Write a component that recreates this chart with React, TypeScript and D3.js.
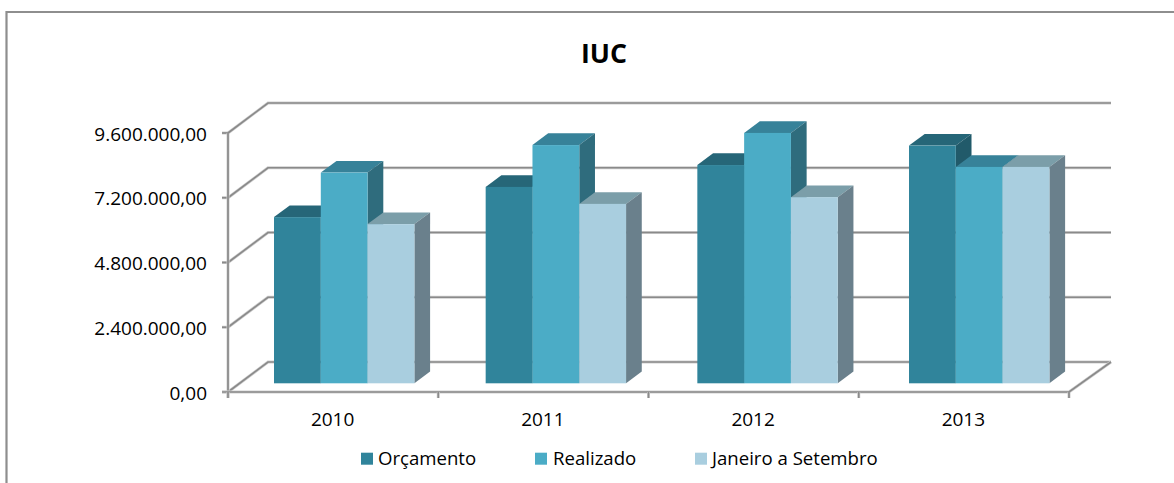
import React from "react";
import * as d3 from "d3";

const categories = ["2010", "2011", "2012", "2013"];
const seriesNames = ["Orçamento", "Realizado", "Janeiro a Setembro"];
const orcamento = [6160000, 7280000, 8090000, 8810000];
const realizado = [7810000, 8830000, 9280000, 8020000];
const janeiroSetembro = [5900000, 6650000, 6900000, 8020000];
const tickValues = [0, 2400000, 4800000, 7200000, 9600000];
const tickLabels = ["0,00", "2.400.000,00", "4.800.000,00", "7.200.000,00", "9.600.000,00"];

const W = 1174, H = 483;
const FONT = "'Open Sans', sans-serif";
const axisX0 = 228, axisX1 = 1069, axisY0 = 392, axisY1 = 133;
const wallDX = 40, wallDY = -30;
const barBaseY = 383.3;
const barDX = 15.7, barDY = -11.7;
const gridColor = "#8a8a8a";

const seriesStyle = [
  { values: orcamento, front: "#30849b", top: "#266678", side: "#215a6a" },
  { values: realizado, front: "#4bacc6", top: "#378299", side: "#2f6c7d" },
  { values: janeiroSetembro, front: "#a9cedf", top: "#7b9ea9", side: "#6a808c" },
];
const legendX = [361, 535, 695];
const legendTextX = [378, 553, 712];

function GridPath({ d }: { d: string }) {
  return (
    <g fill="none">
      <path d={d} stroke="#cfcfcf" strokeWidth={3} />
      <path d={d} stroke={gridColor} strokeWidth={1.7} />
    </g>
  );
}

export default function App() {
  const y = d3.scaleLinear().domain([0, 9600000]).range([axisY0, axisY1]);
  const xTicks = d3.scaleLinear().domain([0, 4]).range([axisX0, axisX1]);
  const group = d3.scaleBand<string>().domain(categories).range([274, 274 + 4 * 211.67]).padding(0);
  const barW = 46.8;
  const h = (v: number) => y(0) - y(v);

  return (
    <svg
      width={W}
      height={H}
      viewBox={`0 0 ${W} ${H}`}
      style={{ position: "absolute", left: 0, top: 0, display: "block", background: "#fff" }}
      fontFamily={FONT}
    >
      <path d={`M${W},12H6.5V${H}`} fill="none" stroke="#8e8e8e" strokeWidth={2.2} />
      <text x={604} y={63} textAnchor="middle" fontSize={27} fontWeight={700} fill="#000" textLength={46} lengthAdjust="spacingAndGlyphs">IUC</text>

      {tickValues.map((t) => {
        const yy = y(t);
        return (
          <g key={t}>
            <GridPath d={`M${axisX0},${yy}L${axisX0 + wallDX},${yy + wallDY}H${axisX1 + wallDX + 2}`} />
            <GridPath d={`M${axisX0 - 6},${yy}H${axisX0}`} />
          </g>
        );
      })}
      <GridPath d={`M${axisX0},${axisY1}V${axisY0 + 6}`} />
      <GridPath d={`M${axisX0 - 6},${axisY0}H${axisX1}L${axisX1 + wallDX + 2},${axisY0 + wallDY}`} />
      {d3.range(5).map((i) => (
        <GridPath key={i} d={`M${xTicks(i)},${axisY0}v6`} />
      ))}

      {tickValues.map((t, i) => (
        <text key={t} x={207} y={y(t) + 7.5} textAnchor="end" fontSize={19} fill="#000">{tickLabels[i]}</text>
      ))}
      {categories.map((c, i) => (
        <text key={c} x={(xTicks(i) + xTicks(i + 1)) / 2 - 0.5} y={426} textAnchor="middle" fontSize={19} fill="#000">{c}</text>
      ))}

      {categories.map((c, ci) => {
        const gx = group(c)!;
        return (
          <g key={c}>
            {[0, 1, 2].map((si) => {
              const s = seriesStyle[si];
              const x = gx + si * barW;
              const bh = h(s.values[ci]);
              const top = barBaseY - bh;
              return (
                <g key={si}>
                  <path d={`M${x},${top}l${barDX},${barDY}h${barW}l${-barDX},${-barDY}z`} fill={s.top} />
                  <path d={`M${x + barW},${top}l${barDX},${barDY}V${barBaseY + barDY}l${-barDX},${-barDY}z`} fill={s.side} />
                </g>
              );
            })}
            {[0, 1, 2].map((si) => {
              const s = seriesStyle[si];
              const x = gx + si * barW;
              const bh = h(s.values[ci]);
              return <rect key={si} x={x} y={barBaseY - bh} width={barW} height={bh} fill={s.front} />;
            })}
          </g>
        );
      })}

      {seriesNames.map((n, i) => (
        <g key={n}>
          <rect x={legendX[i]} y={452.7} width={12} height={12} fill={seriesStyle[i].front} />
          <text x={legendTextX[i]} y={465} fontSize={18.6} fill="#000">{n}</text>
        </g>
      ))}
    </svg>
  );
}
